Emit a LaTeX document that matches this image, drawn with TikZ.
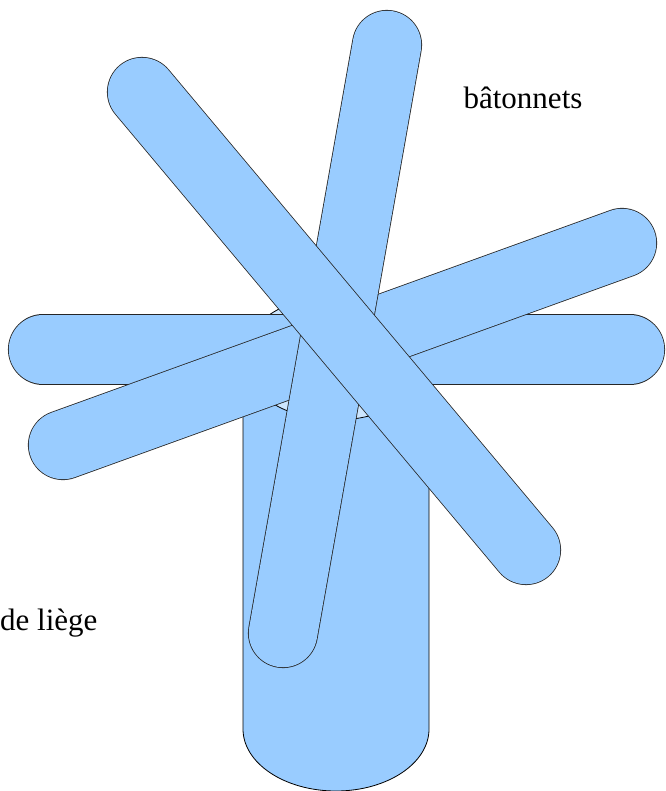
\documentclass[tikz,border=0pt]{standalone}
\usepackage{fontspec}
\setmainfont{Liberation Serif}
\usepackage{tikz}
\definecolor{stickblue}{HTML}{99CCFF}
\definecolor{topblue}{HTML}{CCE6FF}

\begin{document}
\begin{tikzpicture}[x=1pt, y=-1pt,
        stick/.style = {draw=black!85, line width=0.8pt, double=stickblue, double distance=68.5pt, line cap=round},
        cork/.style = {draw=black, line width=0.8pt, fill=stickblue},
        corktop/.style = {draw=black, line width=0.8pt, fill=topblue},
        label/.style = {inner sep=0pt, font=\fontsize{31}{37}\selectfont}]
        \useasboundingbox (0,0) rectangle (665,791);
        % cork
        \draw[cork] (243,358) -- (243,729) arc[start angle=180, end angle=360, x radius=93pt, y radius=62pt] -- (429,358) -- cycle;
        \draw[corktop] (336,358) ellipse [x radius=93pt, y radius=62pt];
        % sticks
        \coordinate (h1) at (43,349.5);
        \coordinate (h2) at (630,349.5);
        \coordinate (s1) at (63,445);
        \coordinate (s2) at (622,243);
        \coordinate (v1) at (283,633);
        \coordinate (v2) at (387,45);
        \coordinate (d1) at (142,92);
        \coordinate (d2) at (526,550);
        \draw[stick] (h1) -- (h2);
        \draw[stick] (s1) -- (s2);
        \draw[stick] (v1) -- (v2);
        \draw[stick] (d1) -- (d2);
        % labels
        \node[label] (sticks) at (523,98) {bâtonnets};
        \node[label, anchor=base west] (cork) at (0,630) {de liège};
\end{tikzpicture}
\end{document}
